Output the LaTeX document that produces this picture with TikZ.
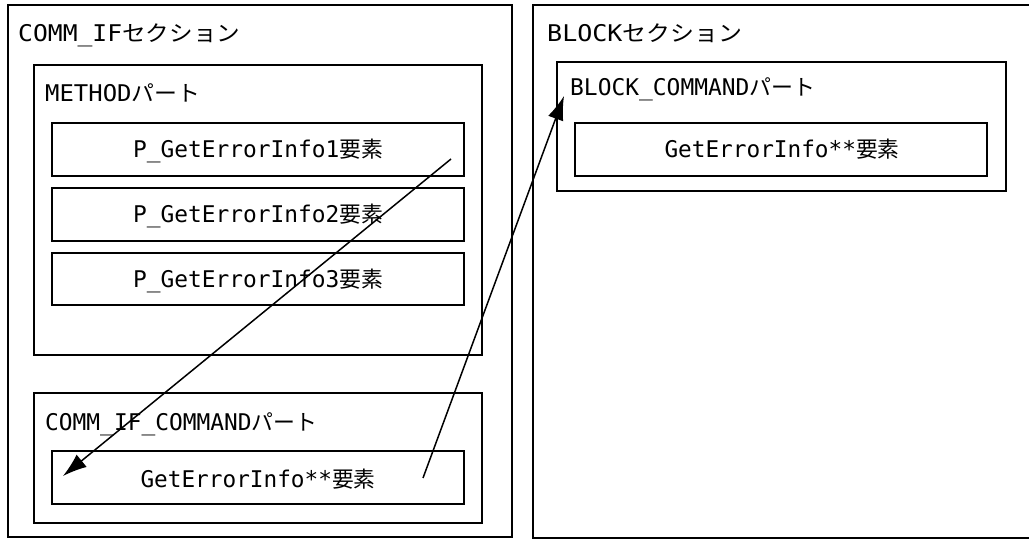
\documentclass[tikz,border=0pt]{standalone}
\usepackage{fontspec}
\usepackage{graphicx}
\usetikzlibrary{arrows.meta}
\newfontfamily\lat{DejaVu Sans Mono}
\newfontfamily\jp{Noto Sans CJK JP}
\newcommand\lbtext[3]{\resizebox{#1}{\height}{\fontsize{23}{26}\lat #2\fontsize{22}{26}\jp #3}}
\begin{document}
\begin{tikzpicture}[x=1pt,y=-1pt,
  box/.style={draw=black,line width=1.6pt,fill=none,inner sep=0pt},
  lbl/.style={inner sep=0pt},
  conn/.style={draw=black,line width=1.5pt,-{Latex[length=24pt,width=16pt]}}]
\useasboundingbox (0,0) rectangle (1029,540);
\fill[white] (0,0) rectangle (1029,540);
% left section
\node[box,minimum width=504pt,minimum height=532pt] (secL) at (260,271) {};
\node[box,minimum width=448pt,minimum height=290pt] (meth) at (258,210) {};
\node[box,minimum width=412pt,minimum height=53pt] (p1) at (258,149.5) {};
\node[box,minimum width=412pt,minimum height=53pt] (p2) at (258,214.5) {};
\node[box,minimum width=412pt,minimum height=52pt] (p3) at (258,279) {};
\node[box,minimum width=448pt,minimum height=130pt] (cmd) at (258,458) {};
\node[box,minimum width=412pt,minimum height=53pt] (gL) at (258,477.5) {};
% right section (cut off at right edge)
\coordinate (rTR) at (1035,5);
\coordinate (rTL) at (533,5);
\coordinate (rBL) at (533,538);
\coordinate (rBR) at (1035,538);
\draw[line width=1.6pt] (rTR) -- (rTL) -- (rBL) -- (rBR);
\node[box,minimum width=449pt,minimum height=129pt] (bcmd) at (781.5,126.5) {};
\node[box,minimum width=412pt,minimum height=53pt] (gR) at (781,149.5) {};
% labels
\node[lbl,anchor=base west] (tSecL) at (18,42) {\lbtext{222pt}{COMM\_IF}{セクション}};
\node[lbl,anchor=base west] (tMeth) at (45,102) {\lbtext{155pt}{METHOD}{パート}};
\node[lbl,anchor=base] (tP1) at (258,158) {\lbtext{250pt}{P\_GetErrorInfo1}{要素}};
\node[lbl,anchor=base] (tP2) at (258,223) {\lbtext{250pt}{P\_GetErrorInfo2}{要素}};
\node[lbl,anchor=base] (tP3) at (258,287.5) {\lbtext{250pt}{P\_GetErrorInfo3}{要素}};
\node[lbl,anchor=base west] (tCmd) at (45,431) {\lbtext{272pt}{COMM\_IF\_COMMAND}{パート}};
\node[lbl,anchor=base] (tGL) at (258,487) {\lbtext{235pt}{GetErrorInfo**}{要素}};
\node[lbl,anchor=base west] (tSecR) at (547,42) {\lbtext{195pt}{BLOCK}{セクション}};
\node[lbl,anchor=base west] (tBcmd) at (570,96) {\lbtext{245pt}{BLOCK\_COMMAND}{パート}};
\node[lbl,anchor=base] (tGR) at (782,158) {\lbtext{235pt}{GetErrorInfo**}{要素}};
% connectors
\coordinate (a1s) at (451,159);
\coordinate (a1e) at (63,476);
\coordinate (a2s) at (423,478);
\coordinate (a2e) at (564,96);
\draw[conn] (a1s) -- (a1e);
\draw[conn] (a2s) -- (a2e);
\end{tikzpicture}
\end{document}
